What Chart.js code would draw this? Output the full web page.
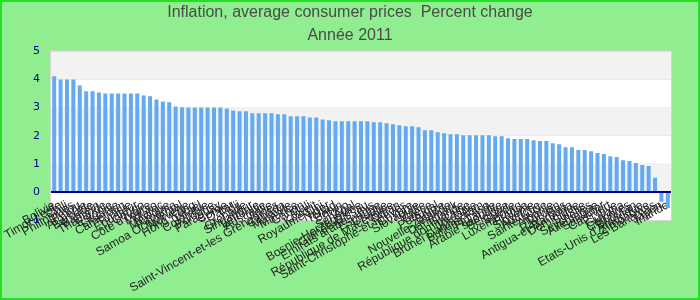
<!DOCTYPE html>
<html>
<head>
<meta charset="utf-8">
<script src="https://cdn.jsdelivr.net/npm/chart.js@4.4.1/dist/chart.umd.min.js"></script>
<style>
    body { margin: 0; background: #90ee90; }
    #wrap { width: 700px; height: 300px; position: relative; }
</style>
</head>
<body>
<div id="wrap"><canvas id="inflChart" width="700" height="300"></canvas></div>
<script>
const countries = [
    'Bolivie', 'Timor-Leste', 'Chili', 'Philippines', 'Pérou', 'Arménie', 'Barbade', 'Bahreïn',
    'Thaïlande', 'Estonie', 'Lituanie', 'Cameroun', 'Tunisie', 'Équateur', 'Congo', "Côte d'Ivoire",
    'Macao', 'Maroc', 'Mexique', 'Panama', 'Samoa Occidental', 'Norvège', 'Hong Kong', 'Israël',
    'Colombie', 'Pologne', 'Paraguay', 'Corée', 'Qatar', 'Fidji', 'Grenade', 'Singapour',
    'Lettonie', 'Australie', 'Italie', 'Saint-Vincent-et-les Grenadines', 'Canada', 'Malaisie', 'Maurice', 'Gabon',
    'Mali', 'Koweït', 'Royaume-Uni', 'Niger', 'Tchad', 'Bénin', 'Togo', 'Sénégal',
    'Bosnie-Herzégovine', 'Guinée-Bissau', 'Émirats arabes unis', 'Espagne', 'Croatie', 'République de Macédoine', 'Oman', 'Saint-Christophe-et-Niévès',
    'Chypre', 'Slovaquie', 'Malte', 'Grèce', 'Portugal', 'Belize', 'Nouvelle-Zélande', 'Danemark',
    'Islande', 'République dominicaine', 'Jordanie', 'Brunéi Darussalam', 'Burkina Faso', 'Finlande', 'Arabie saoudite', 'Belgique',
    'Suède', 'Luxembourg', 'France', 'Slovénie', 'Autriche', 'Sainte-Lucie', 'Albanie', 'Taïwan',
    'Pays-Bas', 'Antigua-et-Barbuda', 'Dominique', 'Suisse', 'Seychelles', 'Allemagne', 'Salvador', 'Cap-Vert',
    'Libye', 'Guyana', 'Comores', 'Bhoutan', "Etats-Unis d'Amérique", 'Zimbabwe', 'Les Bahamas', 'Japon',
    'Irlande'
];

const inflation = [
    4.12, 4.0, 4.0, 4.0, 3.79, 3.58, 3.58, 3.54, 3.5, 3.5, 3.5, 3.5, 3.5, 3.5, 3.43, 3.4, 3.29, 3.22, 3.19, 3.04,
    3.01, 3.0, 3.0, 3.0, 3.0, 3.0, 3.0, 2.97, 2.9, 2.87, 2.87, 2.8, 2.8, 2.8, 2.8, 2.76, 2.76, 2.69, 2.69,
    2.69, 2.65, 2.65, 2.58, 2.55, 2.51, 2.51, 2.51, 2.51, 2.51, 2.51, 2.48, 2.48, 2.44, 2.41, 2.37, 2.34, 2.34, 2.3,
    2.19, 2.19, 2.12, 2.09, 2.05, 2.05, 2.02, 2.02, 2.02, 2.02, 2.02, 1.98, 1.98, 1.91, 1.88, 1.88, 1.88, 1.84, 1.81,
    1.81, 1.73, 1.7, 1.59, 1.59, 1.49, 1.49, 1.45, 1.38, 1.35, 1.27, 1.24, 1.13, 1.1, 1.03, 0.96, 0.92, 0.5, -0.35, -0.57
];

const yTicks = [-1, 0, 1, 2, 3, 4, 5];

// alternating grey/white bands + frame + outer border
const bandsPlugin = {
    id: 'bands',
    afterLayout(chart) {
        // category labels start inside the plot, just under the zero line
        chart.scales.x.top = chart.chartArea.bottom - 22;
    },
    beforeDraw(chart) {
        const ctx = chart.ctx;
        const area = chart.chartArea;
        const y = chart.scales.y;
        ctx.save();
        ctx.fillStyle = '#90ee90';
        ctx.fillRect(0, 0, chart.width, chart.height);
        for (let i = 0; i < yTicks.length - 1; i++) {
            const top = y.getPixelForValue(yTicks[i + 1]);
            const bottom = y.getPixelForValue(yTicks[i]);
            ctx.fillStyle = (yTicks[i] % 2 === 0) ? '#f2f2f2' : '#ffffff';
            ctx.fillRect(area.left, top, area.right - area.left, bottom - top);
        }
        ctx.strokeStyle = '#d6d6d6';
        ctx.lineWidth = 1;
        ctx.strokeRect(area.left - 0.5, area.top - 0.5, area.right - area.left + 1, area.bottom - area.top + 1);
        ctx.strokeStyle = '#22e022';
        ctx.lineWidth = 2;
        ctx.strokeRect(1, 1, chart.width - 2, chart.height - 2);
        ctx.restore();
    }
};

new Chart(document.getElementById('inflChart'), {
    type: 'bar',
    data: {
        labels: countries,
        datasets: [{
            data: inflation,
            backgroundColor: '#64aaf0',
            barPercentage: 0.63,
            categoryPercentage: 1
        }]
    },
    options: {
        responsive: false,
        animation: false,
        layout: { padding: 0 },
        plugins: {
            legend: { display: false },
            tooltip: { enabled: false },
            title: {
                display: true,
                text: 'Inflation, average consumer prices  Percent change',
                color: '#4a4a4a',
                font: { family: 'Liberation Sans', size: 16, weight: 'normal' },
                padding: { top: 3, bottom: 3 }
            },
            subtitle: {
                display: true,
                text: 'Année 2011',
                color: '#4a4a4a',
                font: { family: 'Liberation Sans', size: 16 },
                padding: { top: 1, bottom: 6 }
            }
        },
        scales: {
            x: {
                grid: { display: false, drawTicks: false },
                border: { display: false },
                afterFit(axis) { axis.height = 80; },
                ticks: {
                    autoSkip: false,
                    maxRotation: 30,
                    minRotation: 30,
                    padding: 0,
                    color: '#222',
                    font: { family: 'Liberation Sans', size: 12 }
                }
            },
            y: {
                min: -1,
                max: 5,
                afterFit(axis) { axis.width = 51; },
                afterBuildTicks(axis) { axis.ticks = yTicks.map(v => ({ value: v })); },
                border: { display: false },
                grid: {
                    drawTicks: false,
                    color: ctx => ctx.tick && ctx.tick.value === 0 ? '#00008b' : 'rgba(0,0,0,0)',
                    lineWidth: ctx => ctx.tick && ctx.tick.value === 0 ? 2 : 0
                },
                ticks: {
                    padding: 11,
                    color: '#00008b',
                    font: { family: 'DejaVu Sans', size: 11 }
                }
            },
            // empty right axis, only reserves the margin on the right
            yRight: {
                position: 'right',
                afterFit(axis) { axis.width = 29; },
                border: { display: false },
                grid: { display: false },
                ticks: { display: false }
            }
        }
    },
    plugins: [bandsPlugin]
});
</script>
</body>
</html>
